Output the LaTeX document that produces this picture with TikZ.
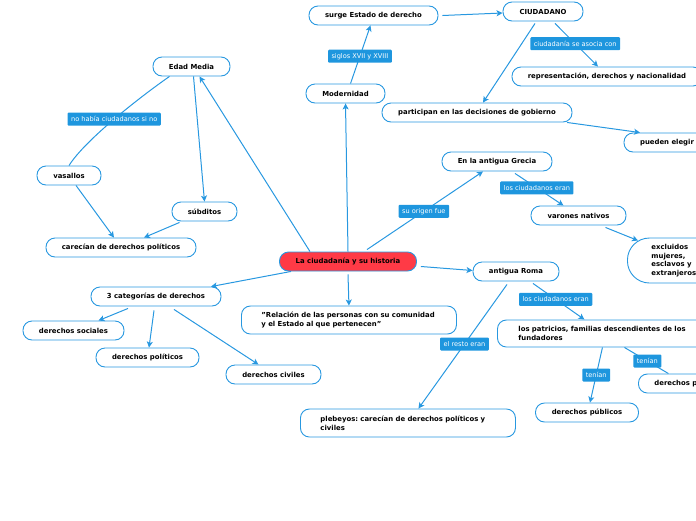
\documentclass[tikz,border=0pt]{standalone}
\usepackage{fontspec}
\setmainfont{DejaVu Sans}
\usetikzlibrary{arrows.meta}
\definecolor{bl}{RGB}{40,152,224}
\definecolor{lb}{RGB}{30,150,222}
\definecolor{rd}{RGB}{255,58,70}
\frenchspacing
\hyphenpenalty=10000
\exhyphenpenalty=10000
\tikzset{
  box/.style={draw=bl, line width=0.9pt, rounded corners=9pt, fill=white,
    font=\bfseries\fontsize{6.9}{8.7}\selectfont, minimum height=19pt, inner ysep=2pt, text=black},
  lab/.style={fill=lb, text=white, font=\fontsize{6.6}{7.5}\selectfont, rounded corners=1pt,
    minimum height=13pt, inner xsep=3.5pt, inner ysep=1.5pt},
  conn/.style={draw=bl, line width=1pt, -{Stealth[length=6pt,width=6pt,inset=1.5pt]}},
  plain/.style={draw=bl, line width=1pt},
}
\begin{document}
\begin{tikzpicture}[x=1pt,y=-1pt]
\useasboundingbox (0,0) rectangle (696,520);
% nodes
\node[box, fill=rd, minimum width=137] (cen) at (348,261.5) {La ciudadanía y su historia};
\node[box, minimum width=77] (em) at (191.5,66.5) {Edad Media};
\node[box, minimum width=79] (mod) at (345.5,93.5) {Modernidad};
\node[box, minimum width=129] (surge) at (373.5,15.5) {surge Estado de derecho};
\node[box, minimum width=80] (ciu) at (543,11.5) {CIUDADANO};
\node[box, minimum width=190] (rep) at (607,76.5) {representación, derechos y nacionalidad};
\node[box, minimum width=190] (part) at (477,112.5) {participan en las decisiones de gobierno};
\node[box, minimum width=86] (pe) at (667,142.5) {pueden elegir};
\node[box, minimum width=64] (vas) at (69,175.5) {vasallos};
\node[box, minimum width=65] (sub) at (204.5,211.5) {súbditos};
\node[box, minimum width=150] (car) at (121,247.5) {carecían de derechos políticos};
\node[box, minimum width=110] (gre) at (497,161.5) {En la antigua Grecia};
\node[box, minimum width=95] (var) at (578.5,215.5) {varones nativos};
\node[box, anchor=west, rounded corners=22pt, minimum height=45pt, text width=52pt, inner xsep=24pt, align=left] (exc) at (627,260.5) {excluidos\\mujeres,\\esclavos y\\extranjeros};
\node[box, minimum width=86] (roma) at (516,271.5) {antigua Roma};
\node[box, anchor=west, minimum height=27pt, text width=180pt, inner xsep=21pt, align=left] (pat) at (497,333.5) {los patricios, familias descendientes de los fundadores};
\node[box, minimum width=103] (dp) at (587,412.5) {derechos públicos};
\node[box, anchor=west, text width=70pt, inner xsep=16pt, align=left] (dpr) at (638,383.5) {derechos p};
\node[box, anchor=west, minimum height=28pt, text width=175pt, inner xsep=20pt, align=left] (pleb) at (300,423) {plebeyos: carecían de derechos políticos y civiles};
\node[box, anchor=west, minimum height=28pt, text width=175pt, inner xsep=20pt, align=left] (rel) at (241,320) {"Relación de las personas con su comunidad y el Estado al que pertenecen"};
\node[box, minimum width=130] (cat) at (156,296.5) {3 categorías de derechos};
\node[box, minimum width=101] (ds) at (73.5,330.5) {derechos sociales};
\node[box, minimum width=103] (dpol) at (147.5,357.5) {derechos políticos};
\node[box, minimum width=95] (dciv) at (273.5,374.5) {derechos civiles};
% connectors
\draw[conn] ([xshift=-38pt]cen.north) -- ([xshift=8pt]em.south);
\draw[conn] (cen.north) -- (mod.south);
\draw[conn] ([xshift=5pt]mod.north) -- node[lab, pos=0.47] {siglos XVII y XVIII} ([xshift=-3pt]surge.south);
\draw[conn] ([xshift=4pt]surge.east) -- ([yshift=-1.5pt]ciu.west);
\draw[conn] ([xshift=-8pt,yshift=-2pt]ciu.south) -- ([xshift=6pt]part.north);
\draw[conn] ([xshift=12pt,yshift=-2pt]ciu.south) -- node[lab, pos=0.47] {ciudadanía se asocia con} ([xshift=-9pt]rep.north);
\draw[conn] ([xshift=90pt]part.south) -- ([xshift=-27pt]pe.north);
\draw[conn] ([xshift=19pt,yshift=2pt]cen.north) -- node[lab, pos=0.49] {su origen fue} ([xshift=-14pt]gre.south);
\draw[conn] ([xshift=18pt,yshift=-2pt]gre.south) -- node[lab, pos=0.45] {los ciudadanos eran} ([xshift=-15pt]var.north);
\draw[conn] ([xshift=27pt,yshift=-2pt]var.south) -- ([xshift=11pt,yshift=-3pt]exc.north west);
\draw[conn] ([xshift=4pt,yshift=-5pt]cen.east) -- ([yshift=1pt]roma.west);
\draw[conn] ([xshift=17pt,yshift=-2pt]roma.south) -- node[lab, pos=0.44] {los ciudadanos eran} ([xshift=-24pt]pat.north);
\draw[conn] ([xshift=-9pt,yshift=-3pt]roma.south) -- node[lab, pos=0.48] {el resto eran} ([xshift=10.5pt]pleb.north);
\draw[conn] ([xshift=-6pt]pat.south) -- node[lab, pos=0.5] {tenían} ([xshift=3pt]dp.north);
\draw[plain] ([xshift=16pt]pat.south) -- node[lab, pos=0.52] {tenían} ([xshift=-21pt]dpr.north);
\draw[conn] ([yshift=-3pt]cen.south) -- (rel.north);
\draw[conn] ([xshift=-57pt]cen.south) -- ([xshift=55pt]cat.north);
\draw[conn] ([xshift=-28pt,yshift=-2pt]cat.south) -- ([xshift=25pt]ds.north);
\draw[conn] ([xshift=-2pt,yshift=-4pt]cat.south) -- ([xshift=1.5pt]dpol.north);
\draw[conn] ([xshift=18pt,yshift=-3pt]cat.south) -- ([xshift=-15pt]dciv.north);
\draw[plain] ([xshift=-22pt]em.south) .. controls (140,97) and (85,140) .. node[lab, pos=0.5] {no había ciudadanos si no} (vas.north);
\draw[conn] ([xshift=2pt]em.south) -- (sub.north);
\draw[conn] ([xshift=7pt]vas.south) -- ([xshift=-7pt]car.north);
\draw[conn] ([xshift=-25pt,yshift=-1pt]sub.south) -- ([xshift=23pt]car.north);
\end{tikzpicture}
\end{document}
